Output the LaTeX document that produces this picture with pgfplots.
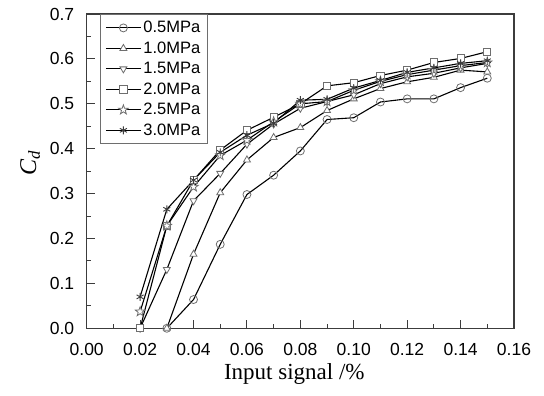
\documentclass[border=0pt]{standalone}
\usepackage{fontspec}
\setmainfont{Liberation Sans}
\newfontfamily\seriffont{Liberation Serif}
\usepackage{pgfplots}
\pgfplotsset{compat=1.18}
\usetikzlibrary{plotmarks}

\pgfdeclareplotmark{pentastar}{%
  \pgfpathmoveto{\pgfpointpolar{90}{1.25\pgfplotmarksize}}%
  \pgfpathlineto{\pgfpointpolar{126}{0.5\pgfplotmarksize}}%
  \pgfpathlineto{\pgfpointpolar{162}{1.25\pgfplotmarksize}}%
  \pgfpathlineto{\pgfpointpolar{198}{0.5\pgfplotmarksize}}%
  \pgfpathlineto{\pgfpointpolar{234}{1.25\pgfplotmarksize}}%
  \pgfpathlineto{\pgfpointpolar{270}{0.5\pgfplotmarksize}}%
  \pgfpathlineto{\pgfpointpolar{306}{1.25\pgfplotmarksize}}%
  \pgfpathlineto{\pgfpointpolar{342}{0.5\pgfplotmarksize}}%
  \pgfpathlineto{\pgfpointpolar{18}{1.25\pgfplotmarksize}}%
  \pgfpathlineto{\pgfpointpolar{54}{0.5\pgfplotmarksize}}%
  \pgfpathclose
  \pgfusepathqfillstroke}

\definecolor{markgray}{RGB}{110,110,110}
\definecolor{axgray}{RGB}{60,60,60}

\begin{document}
\begin{tikzpicture}
\begin{axis}[
  at={(0,0)}, anchor=south west,
  scale only axis,
  width=427.3pt, height=314.3pt,
  xmin=0, xmax=0.16, ymin=0, ymax=0.7,
  xtick={0,0.02,...,0.16},
  ytick={0,0.1,...,0.7},
  tick align=inside,
  tick style={draw=none},
  axis line style={line width=1.1pt, axgray},
  /pgf/number format/assume math mode=true,
  xticklabel style={/pgf/number format/fixed, /pgf/number format/fixed zerofill, /pgf/number format/precision=2, font=\fontsize{17.5}{20}\selectfont, yshift=-11pt},
  yticklabel style={/pgf/number format/fixed, /pgf/number format/fixed zerofill, /pgf/number format/precision=1, font=\fontsize{17.5}{20}\selectfont, xshift=-9pt},
  xlabel={\seriffont Input signal /\%},
  xlabel style={font=\fontsize{23}{26}\selectfont, yshift=-1pt, xshift=-6pt},
  ylabel={\seriffont\itshape C\textsubscript{d}},
  ylabel style={font=\fontsize{24}{26}\selectfont, yshift=3pt, xshift=8pt},
  legend style={at={(0.031,1)}, anchor=north west, draw=markgray, line width=0.8pt,
    font=\fontsize{16.5}{19}\selectfont, row sep=3.5pt, inner sep=5pt},
  legend cell align=left,
  legend image code/.code={\draw[mark repeat=2,mark phase=2] plot coordinates {(0pt,0pt)(17.5pt,0pt)(35pt,0pt)};},
  every axis plot/.append style={black, solid, line width=1.1pt, mark size=4pt,
    mark options={draw=markgray, fill=white, line width=0.8pt, solid}},
]
\pgfplotsinvokeforeach{0.02,0.04,0.06,0.08,0.10,0.12,0.14}{\draw[axgray, line width=1pt] (axis cs:#1,0) -- ++(0pt,8pt);}
\pgfplotsinvokeforeach{0.01,0.03,0.05,0.07,0.09,0.11,0.13,0.15}{\draw[axgray, line width=1pt] (axis cs:#1,0) -- ++(0pt,4.5pt);}
\pgfplotsinvokeforeach{0.1,0.2,0.3,0.4,0.5,0.6}{\draw[axgray, line width=1pt] (axis cs:0,#1) -- ++(8pt,0pt);}
\pgfplotsinvokeforeach{0.05,0.15,0.25,0.35,0.45,0.55,0.65}{\draw[axgray, line width=1pt] (axis cs:0,#1) -- ++(4.5pt,0pt);}
\addplot[mark=o] coordinates {(0.03,0)(0.04,0.064)(0.05,0.187)(0.06,0.298)(0.07,0.341)(0.08,0.395)(0.09,0.465)(0.10,0.469)(0.11,0.504)(0.12,0.511)(0.13,0.511)(0.14,0.536)(0.15,0.557)};
\addlegendentry{0.5MPa}
\addplot[mark=triangle*] coordinates {(0.03,0)(0.04,0.165)(0.05,0.302)(0.06,0.375)(0.07,0.425)(0.08,0.447)(0.09,0.485)(0.10,0.511)(0.11,0.534)(0.12,0.549)(0.13,0.559)(0.14,0.575)(0.15,0.571)};
\addlegendentry{1.0MPa}
\addplot[mark=triangle*, mark options={draw=markgray, fill=white, line width=0.8pt, solid, rotate=180}] coordinates {(0.02,0)(0.03,0.131)(0.04,0.284)(0.05,0.345)(0.06,0.41)(0.07,0.455)(0.08,0.49)(0.09,0.505)(0.10,0.52)(0.11,0.545)(0.12,0.56)(0.13,0.568)(0.14,0.58)(0.15,0.59)};
\addlegendentry{1.5MPa}
\addplot[mark=square*, mark size=3.6pt] coordinates {(0.02,0)(0.03,0.228)(0.04,0.33)(0.05,0.397)(0.06,0.441)(0.07,0.47)(0.08,0.50)(0.09,0.540)(0.10,0.547)(0.11,0.563)(0.12,0.575)(0.13,0.592)(0.14,0.601)(0.15,0.616)};
\addlegendentry{2.0MPa}
\addplot[mark=pentastar] coordinates {(0.02,0.037)(0.03,0.228)(0.04,0.315)(0.05,0.385)(0.06,0.419)(0.07,0.46)(0.08,0.50)(0.09,0.505)(0.10,0.53)(0.11,0.55)(0.12,0.565)(0.13,0.575)(0.14,0.585)(0.15,0.592)};
\addlegendentry{2.5MPa}
\addplot[mark=asterisk, mark options={draw=axgray, line width=0.9pt, solid}] coordinates {(0.02,0.07)(0.03,0.265)(0.04,0.33)(0.05,0.392)(0.06,0.43)(0.07,0.457)(0.08,0.508)(0.09,0.51)(0.10,0.535)(0.11,0.552)(0.12,0.57)(0.13,0.58)(0.14,0.59)(0.15,0.596)};
\addlegendentry{3.0MPa}
\end{axis}
\pgfresetboundingbox
\useasboundingbox (-86.7pt,-67.7pt) rectangle (457.3pt,328.3pt);
\end{tikzpicture}
\end{document}
